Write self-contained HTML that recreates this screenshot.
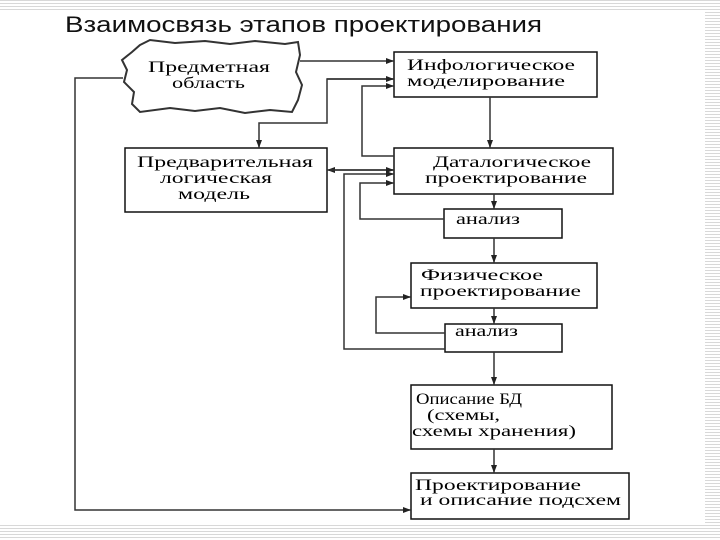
<!DOCTYPE html>
<html><head><meta charset="utf-8"><style>
html,body{margin:0;padding:0;background:#fff;}
body{width:720px;height:540px;overflow:hidden;position:relative;}
svg{position:absolute;left:0;top:0;}
.t{font-family:"Liberation Serif","DejaVu Serif",serif;font-size:16px;fill:#000;}
</style></head><body>
<svg width="720" height="540" viewBox="0 0 720 540">
<defs>
<marker id="a" markerWidth="8" markerHeight="6" refX="8" refY="3" orient="auto" markerUnits="userSpaceOnUse"><path d="M0,0 L8,3 L0,6 z" fill="#222"/></marker>
<pattern id="st" width="4" height="3" patternUnits="userSpaceOnUse"><rect width="4" height="1" fill="#d8d8d8"/></pattern>
</defs>
<rect x="0" y="0" width="720" height="12" fill="url(#st)"/>
<rect x="705" y="0" width="15" height="540" fill="url(#st)"/>
<rect x="0" y="525" width="720" height="15" fill="url(#st)"/>
<text x="65" y="32" font-family="Liberation Sans, sans-serif" font-size="22" fill="#111" textLength="477" lengthAdjust="spacingAndGlyphs">Взаимосвязь этапов проектирования</text>
<path d="M140,45 L150,40 L175,43 L205,41 L230,44 L255,41 L285,44 L298,42 L300,55 L296,72 L302,85 L298,100 L292,112 L270,110 L245,113 L220,108 L195,111 L170,108 L140,112 L132,104 L134,92 L124,82 L127,70 L122,60 L132,52 Z" fill="#fff" stroke="#333" stroke-width="2"/>
<g class="t">
<text x="148" y="72" textLength="122" lengthAdjust="spacingAndGlyphs">Предметная</text>
<text x="172" y="88" textLength="73" lengthAdjust="spacingAndGlyphs">область</text>
</g>
<g fill="#fff" stroke="#111" stroke-width="1.5">
<rect x="394" y="52" width="203" height="45"/>
<rect x="125" y="148" width="202" height="64"/>
<rect x="394" y="148" width="219" height="46"/>
<rect x="444" y="209" width="118" height="29"/>
<rect x="411" y="263" width="186" height="45"/>
<rect x="445" y="324" width="117" height="28"/>
<rect x="411" y="385" width="201" height="64"/>
<rect x="411" y="473" width="218" height="46"/>
</g>
<g class="t">
<text x="407" y="70" textLength="168" lengthAdjust="spacingAndGlyphs">Инфологическое</text>
<text x="407" y="86" textLength="158" lengthAdjust="spacingAndGlyphs">моделирование</text>
<text x="137" y="167" textLength="176" lengthAdjust="spacingAndGlyphs">Предварительная</text>
<text x="160" y="183" textLength="112" lengthAdjust="spacingAndGlyphs">логическая</text>
<text x="178" y="199" textLength="72" lengthAdjust="spacingAndGlyphs">модель</text>
<text x="433" y="167" textLength="158" lengthAdjust="spacingAndGlyphs">Даталогическое</text>
<text x="425" y="183" textLength="162" lengthAdjust="spacingAndGlyphs">проектирование</text>
<text x="456" y="224" textLength="64" lengthAdjust="spacingAndGlyphs">анализ</text>
<text x="421" y="280" textLength="122" lengthAdjust="spacingAndGlyphs">Физическое</text>
<text x="420" y="296" textLength="161" lengthAdjust="spacingAndGlyphs">проектирование</text>
<text x="455" y="336" textLength="63" lengthAdjust="spacingAndGlyphs">анализ</text>
<text x="416" y="404" textLength="106" lengthAdjust="spacingAndGlyphs">Описание БД</text>
<text x="427" y="420" textLength="73" lengthAdjust="spacingAndGlyphs">(схемы,</text>
<text x="412" y="436" textLength="164" lengthAdjust="spacingAndGlyphs">схемы хранения)</text>
<text x="415" y="490" textLength="166" lengthAdjust="spacingAndGlyphs">Проектирование</text>
<text x="420" y="505" textLength="201" lengthAdjust="spacingAndGlyphs">и описание подсхем</text>
</g>
<g fill="none" stroke="#333" stroke-width="1.5">
<line x1="300" y1="61" x2="394" y2="61" marker-end="url(#a)"/>
<polyline points="123,78 75,78 75,510 411,510" marker-end="url(#a)"/>
<polyline points="394,79 327,79 327,123 259,123 259,148" marker-end="url(#a)"/>
<line x1="327" y1="79" x2="394" y2="79" marker-end="url(#a)"/>
<polyline points="394,156 362,156 362,86 394,86" marker-end="url(#a)"/>
<line x1="394" y1="170" x2="327" y2="170" marker-end="url(#a)"/>
<line x1="330" y1="170" x2="394" y2="170" marker-end="url(#a)"/>
<polyline points="445,349 344,349 344,174 394,174" marker-end="url(#a)"/>
<polyline points="444,219 360,219 360,183 394,183" marker-end="url(#a)"/>
<polyline points="445,333 376,333 376,297 411,297" marker-end="url(#a)"/>
<line x1="490" y1="97" x2="490" y2="148" marker-end="url(#a)"/>
<line x1="494" y1="194" x2="494" y2="209" marker-end="url(#a)"/>
<line x1="494" y1="238" x2="494" y2="263" marker-end="url(#a)"/>
<line x1="494" y1="308" x2="494" y2="324" marker-end="url(#a)"/>
<line x1="494" y1="352" x2="494" y2="385" marker-end="url(#a)"/>
<line x1="494" y1="449" x2="494" y2="473" marker-end="url(#a)"/>
</g>
</svg>
</body></html>
